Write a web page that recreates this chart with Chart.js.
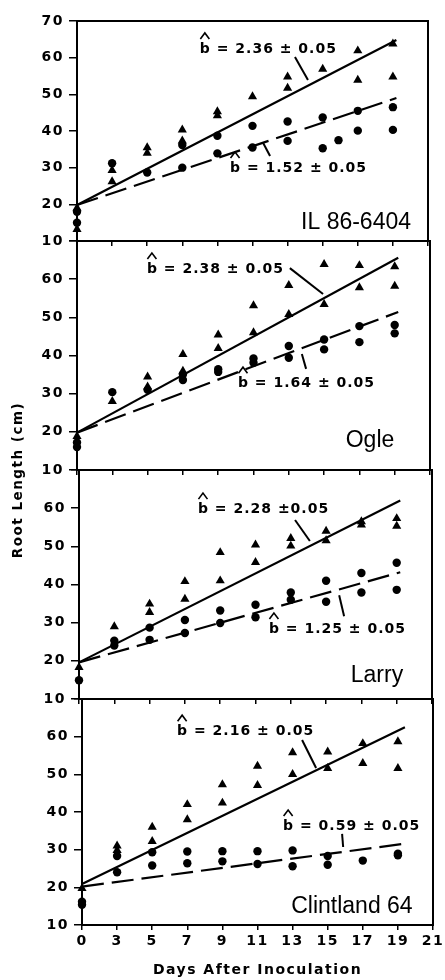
<!DOCTYPE html>
<html><head><meta charset="utf-8">
<script src="https://cdn.jsdelivr.net/npm/chart.js@4.4.1/dist/chart.umd.min.js"></script>
<style>
html,body{margin:0;padding:0;background:#fff;}
#wrap{position:relative;width:445px;height:980px;overflow:hidden;background:#fff;}
#wrap canvas{position:absolute;left:0;top:0;}
</style></head><body>
<div id="wrap">
<canvas id="c1" width="445" height="980"></canvas>
<canvas id="c2" width="445" height="980"></canvas>
<canvas id="c3" width="445" height="980"></canvas>
<canvas id="c4" width="445" height="980"></canvas>
</div>
<script>
// ---- categories / tick labels ----
const xTickLabels = ['0','3','5','7','9','11','13','15','17','19','21'];
const yTickLabels = ['10','20','30','40','50','60','70'];
const cultivars = ['IL 86-6404','Ogle','Larry','Clintland 64'];
const xTitle = 'Days After Inoculation';
const yTitle = 'Root Length (cm)';

// ---- series: [day, root length cm] ----
const IL_TRI = [[0,19.0],[0,13.2],[3,29.3],[3,26.2],[5,35.5],[5,34.0],[7,40.3],[7,37.3],[9,45.3],[9,44.2],[11,49.4],[13,54.8],[13,51.7],[15,56.9],[17,61.9],[17,53.9],[19,63.8],[19,54.8]];
const IL_CIR = [[0,18.0],[0,15.0],[3,31.2],[5,28.7],[7,36.2],[7,30.0],[9,38.7],[9,33.9],[11,41.4],[11,35.5],[13,42.6],[13,37.3],[15,43.7],[15,35.3],[15.9,37.5],[17,45.5],[17,40.1],[19,46.5],[19,40.3]];
const IL_SOLID = [[0,19.8],[19.2,64.8]];
const IL_DASH = [[0,19.8],[19.2,49.0]];

const OGLE_TRI = [[0,18.8],[3,28.0],[5,34.4],[5,31.8],[7,40.3],[7,35.9],[9,45.4],[9,41.9],[11,53.1],[11,46.0],[13,58.4],[13,50.8],[15,63.9],[15,53.4],[17,63.6],[17,57.8],[19,63.3],[19,58.2]];
const OGLE_CIR = [[0,17.2],[0,16.0],[3,30.4],[5,31.0],[7,35.0],[7,33.6],[9,36.4],[9,35.7],[11,39.2],[11,38.1],[13,42.5],[13,39.4],[15,44.2],[15,41.6],[17,47.7],[17,43.5],[19,48.0],[19,45.8]];
const OGLE_SOLID = [[0,19.8],[19.2,65.6]];
const OGLE_DASH = [[0,19.8],[19.2,51.4]];

const LARRY_TRI = [[0,18.3],[3,29.0],[5,34.9],[5,32.7],[7,40.8],[7,36.2],[9,48.4],[9,41.0],[11,50.4],[11,45.8],[13,52.1],[13,50.1],[15,54.0],[15,51.5],[17,56.5],[17,55.6],[19,57.3],[19,55.3]];
const LARRY_CIR = [[0,14.9],[3,25.3],[3,24.0],[5,28.7],[5,25.5],[7,30.7],[7,27.3],[9,33.2],[9,29.9],[11,34.7],[11,31.4],[13,37.9],[13,36.0],[15,41.0],[15,35.5],[17,43.0],[17,37.9],[19,45.7],[19,38.6]];
const LARRY_SOLID = [[0,19.6],[19.2,62.0]];
const LARRY_DASH = [[0,19.6],[19.2,43.2]];

const CLINT_TRI = [[0,19.7],[3,31.0],[3,29.8],[5,36.0],[5,32.2],[7,42.0],[7,38.0],[9,47.3],[9,42.4],[11,52.2],[11,47.1],[13,55.8],[13,50.0],[15,56.0],[15,51.6],[17,58.2],[17,52.9],[19,58.7],[19,51.6]];
const CLINT_CIR = [[0,16.2],[0,15.4],[3,28.3],[3,24.0],[5,29.3],[5,25.8],[7,29.5],[7,26.4],[9,29.6],[9,26.9],[11,29.6],[11,26.2],[13,29.8],[13,25.6],[15,28.3],[15,26.0],[17,27.1],[19,28.9],[19,28.5]];
const CLINT_SOLID = [[0,20.9],[19.4,62.5]];
const CLINT_DASH = [[0,20.2],[19.4,31.6]];

// slope annotation texts
const SLOPES = [['2.36 ± 0.05','1.52 ± 0.05'],['2.38 ± 0.05','1.64 ± 0.05'],['2.28 ±0.05','1.25 ± 0.05'],['2.16 ± 0.05','0.59 ± 0.05']];

// ---- axis transform: the printed day axis is evenly spaced 0,3,5,...,21 ----
function dayToPos(d){ return d <= 3 ? d/3 : (d-1)/2; }
function pts(arr){ return arr.map(p => ({x: dayToPos(p[0]), y: p[1]})); }

// ---- layout (pixels) ----
const Y_W = 60;
const panels = [
  {id:'c1', L:77, R:428, T:21,  B:241, tri:IL_TRI, cir:IL_CIR, solid:IL_SOLID, dash:IL_DASH,
   ann:[{x:3.50,y:61.3,l:[6.21,60.2,6.58,53.9]},{x:4.36,y:28.8,l:[5.30,36.8,5.50,33.2]}], lab:{x:7.95,y:13.2}},
  {id:'c2', L:77, R:430, T:241, B:470, tri:OGLE_TRI, cir:OGLE_CIR, solid:OGLE_SOLID, dash:OGLE_DASH,
   ann:[{x:1.98,y:61.6,l:[6.03,62.9,6.97,56.1]},{x:4.56,y:31.7,l:[6.37,40.4,6.49,36.5]}], lab:{x:8.30,y:16.0}},
  {id:'c3', L:79, R:432, T:470, B:699, tri:LARRY_TRI, cir:LARRY_CIR, solid:LARRY_SOLID, dash:LARRY_DASH,
   ann:[{x:3.37,y:58.7,l:[6.12,56.9,6.54,51.4]},{x:5.38,y:27.3,l:[7.37,37.2,7.51,31.7]}], lab:{x:8.44,y:14.5}},
  {id:'c4', L:82, R:433, T:699, B:925, tri:CLINT_TRI, cir:CLINT_CIR, solid:CLINT_SOLID, dash:CLINT_DASH,
   ann:[{x:2.71,y:60.4,l:[6.27,59.1,6.67,51.7]},{x:5.73,y:35.2,l:[7.41,34.2,7.44,30.7]}], lab:{x:7.69,y:13.2}}
];

const BOLD = '"DejaVu Sans", sans-serif';

const textPlugin = {
  id: 'panelText',
  beforeDraw(chart){ chart.ctx.letterSpacing = '1.5px'; },
  afterDraw(chart, args, o){
    const ctx = chart.ctx, xs = chart.scales.x, ys = chart.scales.y;
    ctx.save();
    ctx.fillStyle = '#000'; ctx.strokeStyle = '#000';
    o.ann.forEach((a, k) => {
      const x = xs.getPixelForValue(a.x), y = ys.getPixelForValue(a.y);
      ctx.font = 'bold 14px ' + BOLD;
      ctx.letterSpacing = '1px';
      ctx.textAlign = 'left'; ctx.textBaseline = 'alphabetic';
      ctx.fillText('b = ' + o.slopes[k], x, y);
      ctx.letterSpacing = '0px';
      const bw = ctx.measureText('b').width;
      ctx.lineWidth = 1.6;
      ctx.beginPath();
      ctx.moveTo(x + 0.5, y - 14); ctx.lineTo(x + bw/2, y - 20); ctx.lineTo(x + bw - 0.5, y - 14);
      ctx.stroke();
      ctx.lineWidth = 2;
      ctx.beginPath();
      ctx.moveTo(xs.getPixelForValue(a.l[0]), ys.getPixelForValue(a.l[1]));
      ctx.lineTo(xs.getPixelForValue(a.l[2]), ys.getPixelForValue(a.l[3]));
      ctx.stroke();
    });
    ctx.letterSpacing = '0px';
    ctx.font = '23px "Liberation Sans", Arial, sans-serif';
    ctx.textAlign = 'center'; ctx.textBaseline = 'alphabetic';
    ctx.fillText(o.name, xs.getPixelForValue(o.lab.x), ys.getPixelForValue(o.lab.y));
    if (o.yTitle) {
      ctx.save();
      ctx.translate(18, 480); ctx.rotate(-Math.PI/2);
      ctx.font = 'bold 13.5px ' + BOLD; ctx.letterSpacing = '1.5px';
      ctx.textAlign = 'center'; ctx.textBaseline = 'middle';
      ctx.fillText(o.yTitle, 0, 0);
      ctx.restore();
    }
    ctx.restore();
  }
};

panels.forEach((p, i) => {
  const last = i === panels.length - 1;
  const X_H = last ? (980 - p.B) : 6;
  const tickFont = {family: BOLD, size: 14, weight: 'bold'};
  new Chart(document.getElementById(p.id), {
    type: 'scatter',
    data: { datasets: [
      {data: pts(p.tri), pointStyle:'triangle', pointRadius:5.3, backgroundColor:'#000', borderColor:'#000', borderWidth:0, showLine:false, clip:false},
      {data: pts(p.cir), pointStyle:'circle', pointRadius:4.2, backgroundColor:'#000', borderColor:'#000', borderWidth:0, showLine:false, clip:false},
      {data: pts(p.solid), showLine:true, borderColor:'#000', borderWidth:2.2, pointRadius:0, clip:false},
      {data: pts(p.dash), showLine:true, borderColor:'#000', borderWidth:2.2, borderDash:[22,8], pointRadius:0, clip:false}
    ]},
    options: {
      responsive:false, animation:false, devicePixelRatio:1, events:[],
      layout:{padding:{left:p.L - Y_W, right:445 - p.R, top:p.T, bottom:980 - p.B - X_H}},
      plugins:{legend:{display:false}, tooltip:{enabled:false},
        panelText:{ann:p.ann, slopes:SLOPES[i], name:cultivars[i], lab:p.lab, yTitle: last ? yTitle : null}},
      scales:{
        x:{type:'linear', position:'bottom', min:0, max:10,
           ticks:{stepSize:1, autoSkip:false, maxRotation:0, display:last, color:'#000', font:tickFont, padding:3,
                  callback:(v) => xTickLabels[v]},
           grid:{drawOnChartArea:false, drawTicks:true, tickLength:5, color:'#000', lineWidth:1.5},
           border:{display:true, color:'#000', width:2},
           title:{display:last, text:xTitle, color:'#000', font:{family:BOLD, size:14, weight:'bold'}, padding:{top:0, bottom:1}},
           afterFit:(s) => { s.height = X_H; s.paddingLeft = 0; s.paddingRight = 0; }},
        y:{type:'linear', position:'left', min:10, max:70,
           ticks:{stepSize:10, color:'#000', font:tickFont, padding:5,
                  callback:(v) => (v === 70 && i > 0) ? '' : yTickLabels[(v - 10) / 10]},
           grid:{drawOnChartArea:false, drawTicks:true, tickLength:8, color:'#000', lineWidth:1.5},
           border:{display:true, color:'#000', width:2},
           afterFit:(s) => { s.width = Y_W; s.paddingTop = 0; s.paddingBottom = 0; }},
        x2:{type:'linear', position:'top', min:0, max:10, ticks:{display:false}, grid:{display:false},
           border:{display:true, color:'#000', width:2},
           afterFit:(s) => { s.height = 0; s.paddingLeft = 0; s.paddingRight = 0; }},
        y2:{type:'linear', position:'right', min:10, max:70, ticks:{display:false}, grid:{display:false},
           border:{display:true, color:'#000', width:2},
           afterFit:(s) => { s.width = 0; s.paddingTop = 0; s.paddingBottom = 0; }}
      }
    },
    plugins:[textPlugin]
  });
});
</script>
</body></html>
